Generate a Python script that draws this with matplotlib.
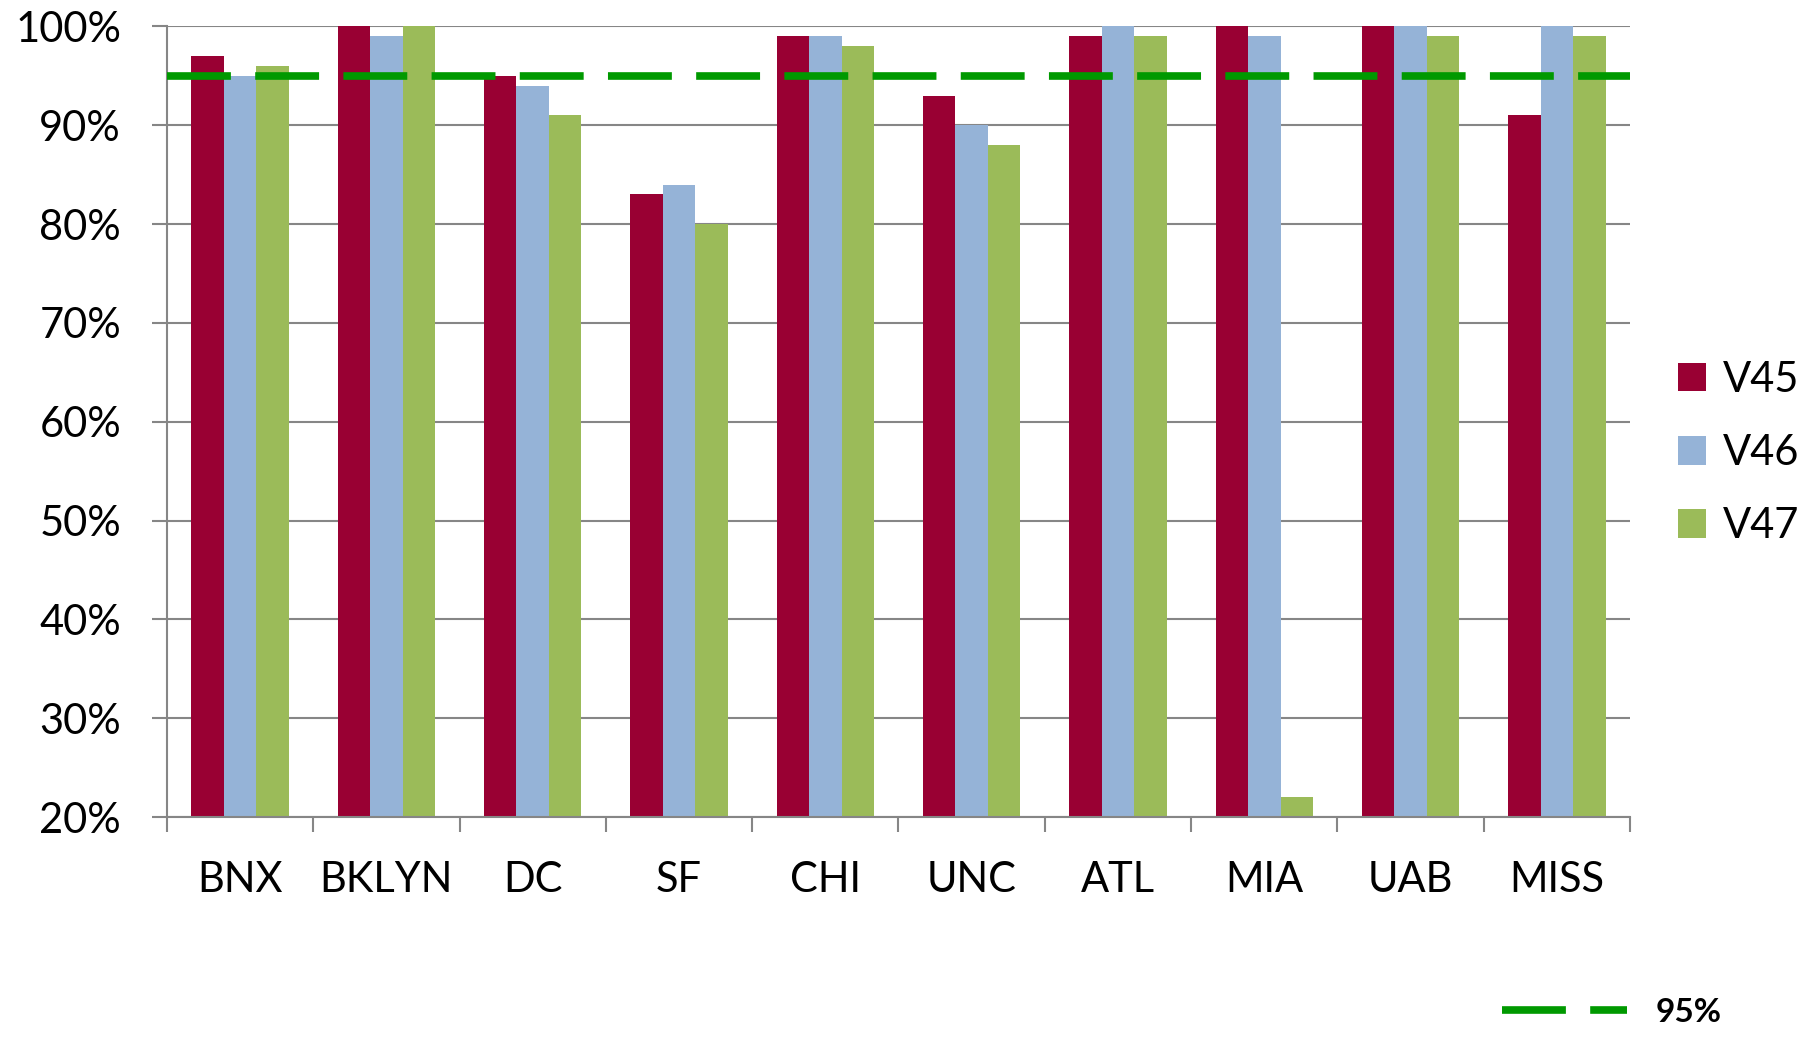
import matplotlib
matplotlib.use("Agg")
import matplotlib.pyplot as plt
import numpy as np
from matplotlib.lines import Line2D

plt.rcParams['font.family'] = ['Lato', 'DejaVu Sans']
plt.rcParams['lines.scale_dashes'] = False

# data
sites = ['BNX', 'BKLYN', 'DC', 'SF', 'CHI', 'UNC', 'ATL', 'MIA', 'UAB', 'MISS']
v45 = [97, 100, 95, 83, 99, 93, 99, 100, 100, 91]
v46 = [95, 99, 94, 84, 99, 90, 100, 99, 100, 100]
v47 = [96, 100, 91, 80, 98, 88, 99, 22, 99, 99]
series_names = ['V45', 'V46', 'V47']
target = 95
yticks = [20, 30, 40, 50, 60, 70, 80, 90, 100]

colors = ['#990033', '#95B3D7', '#9BBB59']
grid_col = '#868686'
line_col = '#009900'

fig = plt.figure(figsize=(18.04, 10.38), dpi=100)
ax = fig.add_axes([0.0925, 0.2129, 0.8111, 0.7616])

x = np.arange(len(sites))
w = 1 / 4.5   # excel gap width 150%
bars = []
for i, vals in enumerate([v45, v46, v47]):
    b = ax.bar(x + (i - 1) * w, vals, width=w, color=colors[i], zorder=2,
               label=series_names[i])
    bars.append(b)

# 95% target line
tl = ax.axhline(target, color=line_col, lw=5.5, dashes=(46, 17.5), zorder=3,
                clip_on=False)

ax.set_xlim(-0.5, len(sites) - 0.5)
ax.set_ylim(20, 100)
ax.set_yticks(yticks)
ax.set_yticklabels([str(t) + '%' for t in yticks])
ax.yaxis.grid(True, color=grid_col, lw=1.5, zorder=0)
ax.set_axisbelow(True)

ax.set_xticks(x)
ax.set_xticklabels(sites)
ax.set_xticks(np.arange(len(sites) + 1) - 0.5, minor=True)
ax.tick_params(axis='x', which='major', length=0, pad=32, labelsize=30)
ax.tick_params(axis='x', which='minor', length=11, width=1.5, color=grid_col,
               direction='out')
ax.tick_params(axis='y', length=11, width=1.5, color=grid_col, pad=22,
               labelsize=30, direction='out')

for s in ['top', 'right']:
    ax.spines[s].set_visible(False)
for s in ['left', 'bottom']:
    ax.spines[s].set_color(grid_col)
    ax.spines[s].set_linewidth(1.5)

leg1 = fig.legend(handles=bars, labels=series_names, loc='center left',
                  bbox_to_anchor=(0.930, 0.5636), frameon=False, fontsize=30,
                  handlelength=0.68, handleheight=0.68, handletextpad=0.4,
                  labelspacing=0.85, borderaxespad=0, borderpad=0)

h2 = Line2D([], [], color=line_col, lw=5.5, dashes=(46, 17.5))
leg2 = fig.legend(handles=[h2], labels=['95%'], loc='center left',
                  bbox_to_anchor=(0.8325, 0.025), frameon=False,
                  prop={'size': 24, 'weight': 'bold'},
                  handlelength=3.75, handletextpad=0.85,
                  borderaxespad=0, borderpad=0)

fig.savefig('out.png', dpi=100)
